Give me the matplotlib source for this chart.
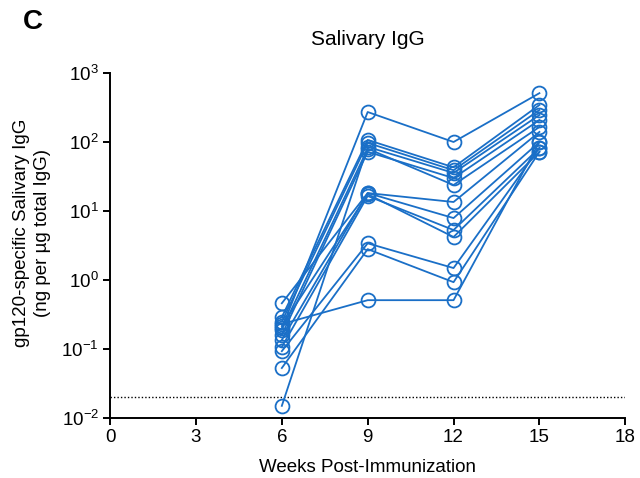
import math
import matplotlib
matplotlib.use("Agg")
import matplotlib.pyplot as plt
from matplotlib.ticker import FixedLocator, FuncFormatter, NullLocator

plt.rcParams['font.family'] = ['Liberation Sans', 'DejaVu Sans']
plt.rcParams['mathtext.fontset'] = 'custom'
plt.rcParams['mathtext.rm'] = 'Liberation Sans'

weeks = [6, 9, 12, 15]

# gp120-specific salivary IgG per animal (ng per ug total IgG) at weeks 6, 9, 12, 15
subject_a = [0.20, 272, 100, 510]
subject_b = [0.29, 107, 43, 344]
subject_c = [0.25, 97, 39, 291]
subject_d = [0.015, 85, 35.6, 246]
subject_e = [0.16, 72, 30, 208]
subject_f = [0.19, 80, 23.8, 165]
subject_g = [0.46, 18.2, 13.5, 140]
subject_h = [0.135, 18.2, 7.9, 100]
subject_i = [0.107, 16.5, 5.3, 82]
subject_j = [0.215, 17.5, 4.2, 72]
subject_k = [0.093, 3.4, 1.49, 82]
subject_l = [0.053, 2.8, 0.93, 72]
subject_m = [0.23, 0.51, 0.51, 100]

subjects = [subject_a, subject_b, subject_c, subject_d, subject_e, subject_f,
            subject_g, subject_h, subject_i, subject_j, subject_k, subject_l,
            subject_m]

detection_limit = 0.02

x_ticks = [0, 3, 6, 9, 12, 15, 18]
y_ticks = [1e-2, 1e-1, 1e0, 1e1, 1e2, 1e3]

color = '#1a6fc7'

fig = plt.figure(figsize=(6.4, 4.78), dpi=100)
ax = fig.add_axes([0.172, 0.1255, 0.805, 0.7218])

for s in subjects:
    ax.plot(weeks, s, color=color, lw=1.3, marker='o', markersize=10,
            markerfacecolor='none', markeredgecolor=color, markeredgewidth=1.3,
            clip_on=False, zorder=3)

ax.axhline(detection_limit, color='black', lw=1.0, ls=(0, (1, 1.5)), zorder=2)

ax.set_yscale('log')
ax.set_ylim(1e-2, 1e3)
ax.set_xlim(0, 18)
ax.xaxis.set_major_locator(FixedLocator(x_ticks))
ax.yaxis.set_major_locator(FixedLocator(y_ticks))
ax.yaxis.set_minor_locator(NullLocator())


def log_fmt(v, pos):
    e = int(round(math.log10(v)))
    return r'$\mathregular{10^{%d}}$' % e


ax.yaxis.set_major_formatter(FuncFormatter(log_fmt))

for side in ['top', 'right']:
    ax.spines[side].set_visible(False)
for side in ['left', 'bottom']:
    ax.spines[side].set_linewidth(1.4)

ax.tick_params(axis='both', direction='out', length=5, width=1.4,
               labelsize=13.5, colors='black', pad=3)

ax.set_xlabel('Weeks Post-Immunization', fontsize=13.5, labelpad=9)
ax.set_ylabel('gp120-specific Salivary IgG\n(ng per \u00b5g total IgG)',
              fontsize=13.5, linespacing=1.3)
ax.yaxis.set_label_coords(-0.115, 0.536)
ax.set_title('Salivary IgG', fontsize=15, pad=20)

fig.text(0.036, 0.954, 'C', fontsize=20, fontweight='bold', va='center')

fig.savefig('out.png', dpi=100)
